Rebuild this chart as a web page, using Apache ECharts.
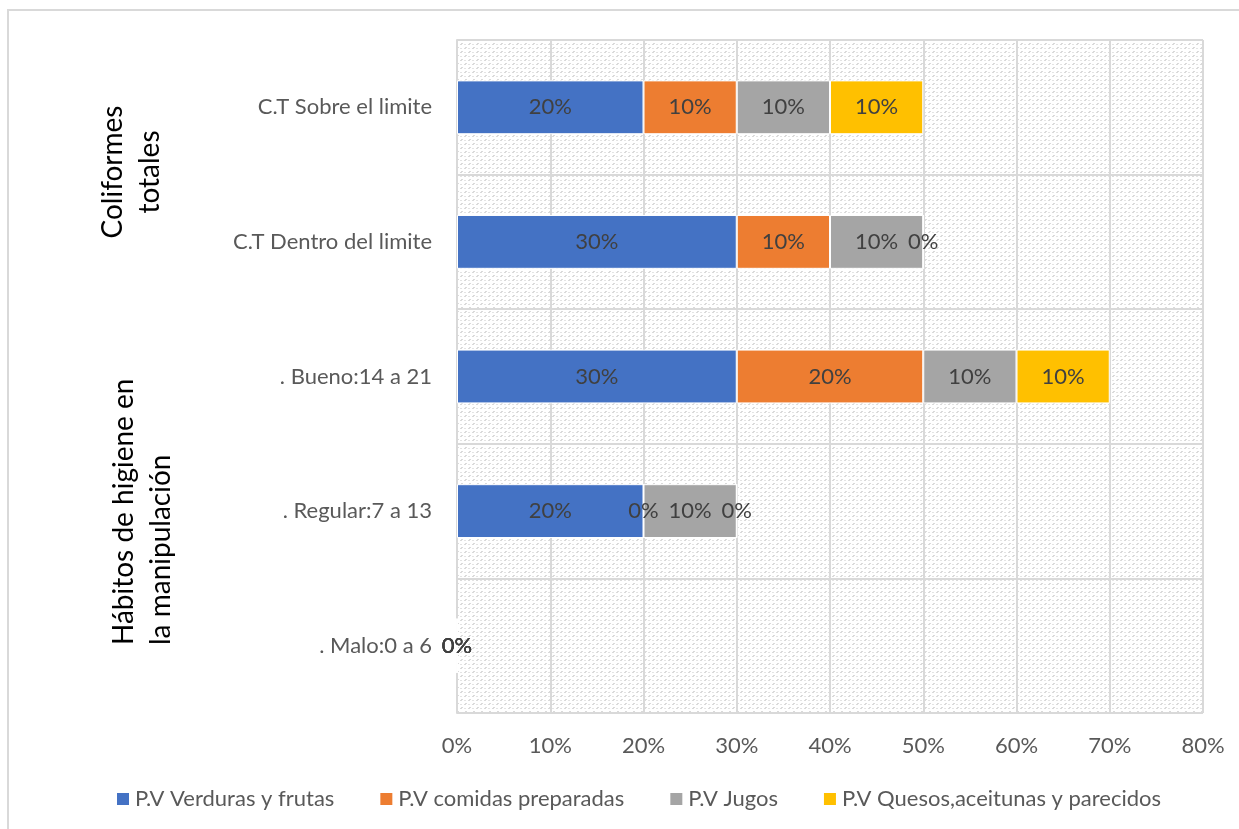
<!DOCTYPE html>
<html><head><meta charset="utf-8">
<script src="https://cdn.jsdelivr.net/npm/echarts@6/dist/echarts.min.js"></script>
<style>html,body{margin:0;padding:0;background:#fff}#c{width:1239px;height:829px}</style>
</head><body><div id="c"></div>
<script>
const categories = ['. Malo:0 a 6', '. Regular:7 a 13', '. Bueno:14 a 21', 'C.T Dentro del limite', 'C.T Sobre el limite'];
const seriesNames = ['P.V Verduras y frutas', 'P.V comidas preparadas', 'P.V Jugos', 'P.V Quesos,aceitunas y parecidos'];
const verduras = [0, 20, 30, 30, 20];
const comidas = [0, 0, 20, 10, 10];
const jugos = [0, 10, 10, 10, 10];
const quesos = [0, 0, 10, 0, 10];
const xTicks = [0, 10, 20, 30, 40, 50, 60, 70, 80];
const colors = ['#4472C4', '#ED7D31', '#A5A5A5', '#FFC000'];

const pc = document.createElement('canvas');
pc.width = 8; pc.height = 8;
const g = pc.getContext('2d');
g.fillStyle = '#ffffff'; g.fillRect(0,0,8,8);
for (let x = 0; x < 8; x++) {
  for (let y = 0; y < 8; y++) {
    const a = (x + y) % 8, b = (x - y + 8) % 8;
    if (a < 2 && b < 4) { g.fillStyle = '#dadada'; g.fillRect(x, y, 1, 1); }
    else if (b >= 4 && b < 6 && (a === 4 || a === 5)) { g.fillStyle = '#e4e4e4'; g.fillRect(x, y, 1, 1); }
  }
}

const font = 'Lato, "Noto Sans", sans-serif';
const chart = echarts.init(document.getElementById('c'), null, {renderer: 'canvas'});
const data = [verduras, comidas, jugos, quesos];
chart.setOption({
  animation: false,
  textStyle: {fontFamily: font},
  grid: {left: 457, right: 36, top: 40, bottom: 116, show: true, borderWidth: 0,
         backgroundColor: {image: pc, repeat: 'repeat'}},
  xAxis: {type: 'value', min: xTicks[0], max: xTicks[xTicks.length-1], interval: 10,
    axisLine: {show: false}, axisTick: {show: false},
    splitLine: {show: true, lineStyle: {color: '#d9d9d9', width: 2}},
    axisLabel: {formatter: '{value}%', color: '#595959', fontSize: 22, margin: 22, fontFamily: font}},
  yAxis: {type: 'category', data: categories,
    axisLine: {show: true, lineStyle: {color: '#d9d9d9', width: 2}}, axisTick: {show: false},
    splitLine: {show: true, lineStyle: {color: '#d9d9d9', width: 2}},
    axisLabel: {color: '#595959', fontSize: 22, margin: 25, fontFamily: font}},
  legend: {bottom: 14, left: 110, itemWidth: 14, itemHeight: 14, itemGap: 44, icon: 'rect',
    textStyle: {color: '#595959', fontSize: 22, fontFamily: font},
    data: seriesNames},
  series: seriesNames.map((n, i) => ({
    name: n, type: 'bar', stack: 'total', barWidth: '40%',
    data: data[i],
    itemStyle: {color: colors[i], borderColor: '#ffffff', borderWidth: 1},
    label: {show: true, position: 'inside', formatter: '{c}%', color: '#404040', fontSize: 22, fontFamily: font}
  })),
  graphic: [
    {type: 'rect', shape: {x: 8, y: 10, width: 1300, height: 900}, style: {fill: 'none', stroke: '#d9d9d9', lineWidth: 2}, silent: true, z: -10},
    {type: 'text', x: 131, y: 172, rotation: Math.PI/2,
      style: {text: 'Coliformes\ntotales', fill: '#000', font: '28px ' + font, textAlign: 'center', textVerticalAlign: 'middle', lineHeight: 37}},
    {type: 'text', x: 142, y: 645, rotation: Math.PI/2,
      style: {text: 'Hábitos de higiene en\nla manipulación', fill: '#000', font: '28px ' + font, textAlign: 'left', textVerticalAlign: 'middle', lineHeight: 37}}
  ]
});
</script></body></html>
